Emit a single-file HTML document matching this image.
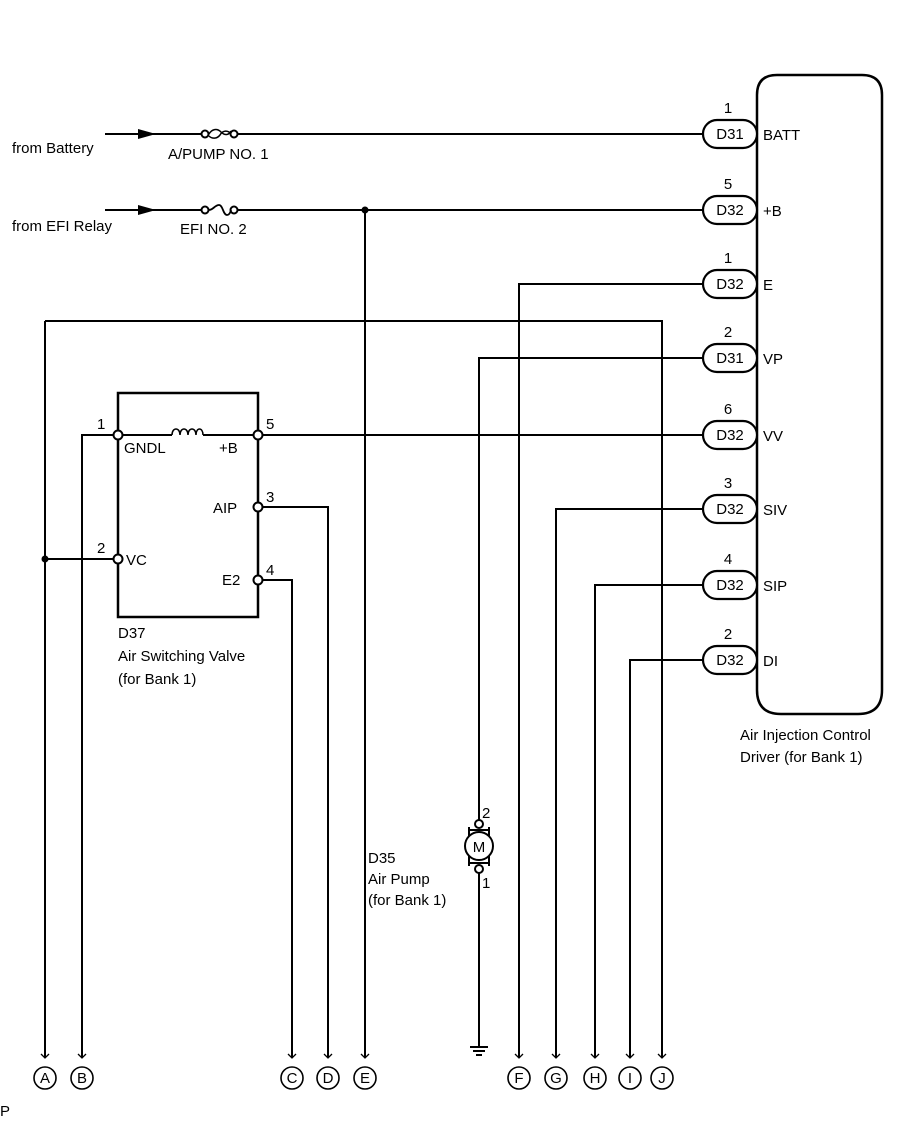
<!DOCTYPE html>
<html><head><meta charset="utf-8"><style>
html,body{margin:0;padding:0;background:#fff}
svg{display:block}
text{font-family:"Liberation Sans",sans-serif;fill:#000;font-size:15px}
</style></head><body>
<svg width="907" height="1122" viewBox="0 0 907 1122" xmlns="http://www.w3.org/2000/svg">
<g stroke="#000" stroke-width="2" fill="none">
<path d="M757,95 Q757,75 777,75 L862,75 Q882,75 882,95 L882,690 Q882,714 858,714 L781,714 Q757,714 757,690 Z" stroke-width="2.5"/>
<path d="M105,134 H202 M234,134 H705"/>
<path d="M105,210 H202 M234,210 H705 M365,210 V1058"/>
<path d="M705,284 H519 V1058"/>
<path d="M45,321 H662 V1058 M45,321 V1058"/>
<path d="M705,358 H479 V821 M479,873 V1046"/>
<path d="M705,435 H262"/>
<path d="M114,435 H82 V1058"/>
<path d="M705,509 H556 V1058 M705,585 H595 V1058 M705,660 H630 V1058"/>
<path d="M262,507 H328 V1058 M262,580 H292 V1058 M114,559 H45"/>
<path d="M118,393 H258 V617 H118 Z" stroke-width="2.5"/>
<path d="M122,435 H172 M203,435 H254"/>
<path d="M172,435 c0,-8 8,-8 8,0 c0,-8 8,-8 8,0 c0,-8 8,-8 8,0 c0,-8 7,-8 7,0" stroke-width="1.5"/>
</g>
<g stroke="#000" stroke-width="2" fill="#fff">
<circle cx="205" cy="134" r="3.5"/><circle cx="234" cy="134" r="3.5"/>
<circle cx="205" cy="210" r="3.5"/><circle cx="234" cy="210" r="3.5"/>
</g>
<path d="M209,134 c3,-5 8,-6 12,-2 c4,4 8,3 10,-1 M209,136 c3,3 8,3 11,-1 c3,-5 8,-5 11,-1" stroke="#000" stroke-width="1.5" fill="none"/>
<path d="M209,210 c4,0 6,-5 10,-5 c4,0 4,10 8,10 c3,0 4,-5 4,-5" stroke="#000" stroke-width="1.8" fill="none"/>
<polygon points="138,129 156,134 138,139" fill="#000"/>
<polygon points="138,205 156,210 138,215" fill="#000"/>
<circle cx="365" cy="210" r="3.5" fill="#000"/>
<circle cx="45" cy="559" r="3.5" fill="#000"/>
<g stroke="#000" stroke-width="2" fill="#fff">
<circle cx="118" cy="435" r="4.5"/><circle cx="258" cy="435" r="4.5"/>
<circle cx="258" cy="507" r="4.5"/><circle cx="258" cy="580" r="4.5"/>
<circle cx="118" cy="559" r="4.5"/>
</g>
<g stroke="#000" stroke-width="2.2" fill="#fff">
<rect x="703" y="120" width="54" height="28" rx="14"/>
<rect x="703" y="196" width="54" height="28" rx="14"/>
<rect x="703" y="270" width="54" height="28" rx="14"/>
<rect x="703" y="344" width="54" height="28" rx="14"/>
<rect x="703" y="421" width="54" height="28" rx="14"/>
<rect x="703" y="495" width="54" height="28" rx="14"/>
<rect x="703" y="571" width="54" height="28" rx="14"/>
<rect x="703" y="646" width="54" height="28" rx="14"/>
</g>
<g text-anchor="middle">
<text x="730" y="139">D31</text><text x="730" y="215">D32</text><text x="730" y="289">D32</text><text x="730" y="363">D31</text>
<text x="730" y="440">D32</text><text x="730" y="514">D32</text><text x="730" y="590">D32</text><text x="730" y="665">D32</text>
<text x="728" y="113">1</text><text x="728" y="189">5</text><text x="728" y="263">1</text><text x="728" y="337">2</text>
<text x="728" y="414">6</text><text x="728" y="488">3</text><text x="728" y="564">4</text><text x="728" y="639">2</text>
</g>
<g>
<text x="763" y="140">BATT</text><text x="763" y="216">+B</text><text x="763" y="290">E</text><text x="763" y="364">VP</text>
<text x="763" y="441">VV</text><text x="763" y="515">SIV</text><text x="763" y="591">SIP</text><text x="763" y="666">DI</text>
<text x="740" y="740">Air Injection Control</text>
<text x="740" y="762">Driver (for Bank 1)</text>
<text x="12" y="153">from Battery</text>
<text x="168" y="159">A/PUMP NO. 1</text>
<text x="12" y="231">from EFI Relay</text>
<text x="180" y="234">EFI NO. 2</text>
<text x="97" y="429">1</text><text x="266" y="429">5</text><text x="266" y="502">3</text><text x="266" y="575">4</text><text x="97" y="553">2</text>
<text x="124" y="453">GNDL</text><text x="219" y="453">+B</text><text x="213" y="513">AIP</text><text x="222" y="585">E2</text><text x="126" y="565">VC</text>
<text x="118" y="638">D37</text>
<text x="118" y="661">Air Switching Valve</text>
<text x="118" y="684">(for Bank 1)</text>
<text x="368" y="863">D35</text>
<text x="368" y="884">Air Pump</text>
<text x="368" y="905">(for Bank 1)</text>
<text x="482" y="818">2</text><text x="482" y="888">1</text>
<text x="0" y="1116" font-size="11">P</text>
</g>
<g stroke="#000" stroke-width="2" fill="#fff">
<path d="M469,827 V837 M489,827 V837 M469,856 V866 M489,856 V866" fill="none"/>
<path d="M469,830 H489 M469,863 H489" fill="none"/>
<circle cx="479" cy="846" r="14"/>
<circle cx="479" cy="824" r="4"/><circle cx="479" cy="869" r="4"/>
</g>
<text x="479" y="852" text-anchor="middle" font-size="17">M</text>
<g stroke="#000" stroke-width="2"><path d="M470,1047 H488 M473,1051 H485 M476,1055 H482"/></g>
<g stroke="#000" stroke-width="1.3" fill="none">
<path d="M41,1054 L45,1058 L49,1054 M78,1054 L82,1058 L86,1054 M288,1054 L292,1058 L296,1054 M324,1054 L328,1058 L332,1054 M361,1054 L365,1058 L369,1054 M515,1054 L519,1058 L523,1054 M552,1054 L556,1058 L560,1054 M591,1054 L595,1058 L599,1054 M626,1054 L630,1058 L634,1054 M658,1054 L662,1058 L666,1054"/>
<g stroke-width="1.6">
<circle cx="45" cy="1078" r="11"/><circle cx="82" cy="1078" r="11"/><circle cx="292" cy="1078" r="11"/><circle cx="328" cy="1078" r="11"/><circle cx="365" cy="1078" r="11"/>
<circle cx="519" cy="1078" r="11"/><circle cx="556" cy="1078" r="11"/><circle cx="595" cy="1078" r="11"/><circle cx="630" cy="1078" r="11"/><circle cx="662" cy="1078" r="11"/>
</g></g>
<g text-anchor="middle" font-size="14">
<text x="45" y="1083">A</text><text x="82" y="1083">B</text><text x="292" y="1083">C</text><text x="328" y="1083">D</text><text x="365" y="1083">E</text>
<text x="519" y="1083">F</text><text x="556" y="1083">G</text><text x="595" y="1083">H</text><text x="630" y="1083">I</text><text x="662" y="1083">J</text>
</g>
</svg>
</body></html>
